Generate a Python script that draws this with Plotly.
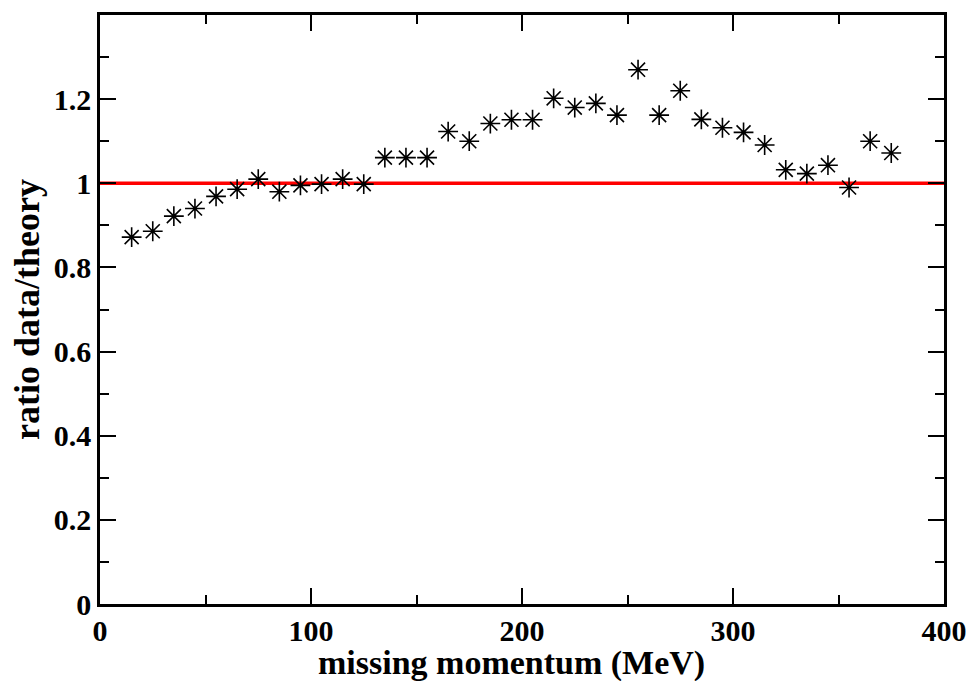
import plotly.graph_objects as go

# Missing momentum bins (MeV) and measured ratio data/theory
momentum = [15, 25, 35, 45, 55, 65, 75, 85, 95, 105, 115, 125,
            135, 145, 155, 165, 175, 185, 195, 205, 215, 225, 235, 245,
            255, 265, 275, 285, 295, 305, 315, 325, 335, 345, 355, 365, 375]
ratio = [0.872, 0.886, 0.922, 0.940, 0.969, 0.986, 1.010, 0.980, 0.995, 0.998, 1.010, 0.998,
         1.061, 1.061, 1.061, 1.123, 1.100, 1.142, 1.151, 1.151, 1.202, 1.180, 1.190, 1.162,
         1.270, 1.162, 1.220, 1.152, 1.132, 1.121, 1.091, 1.032, 1.023, 1.043, 0.990, 1.100, 1.072]

# Reference line at unity
ref_x = [0, 400]
ref_y = [1, 1]

x_ticks = [0, 100, 200, 300, 400]
x_labels = ["0", "100", "200", "300", "400"]
y_ticks = [0, 0.2, 0.4, 0.6, 0.8, 1.0, 1.2]
y_labels = ["0", "0.2", "0.4", "0.6", "0.8", "1", "1.2"]

FONT = "Liberation Serif"

fig = go.Figure()
fig.add_trace(go.Scatter(
    x=ref_x, y=ref_y, mode="lines",
    line=dict(color="#ff0000", width=3.5),
    hoverinfo="skip", showlegend=False,
))
fig.add_trace(go.Scatter(
    x=momentum, y=ratio, mode="markers",
    marker=dict(symbol="asterisk-open", size=16.5, color="black",
                line=dict(color="black", width=1.6)),
    showlegend=False,
))

axis_common = dict(
    showline=True, linecolor="black", linewidth=2.5, mirror="allticks",
    ticks="inside", ticklen=16, tickwidth=1.5, tickcolor="black",
    showgrid=False, zeroline=False,
    tickfont=dict(family=FONT, size=30, color="black", weight="bold"),
)

fig.update_xaxes(
    range=[0, 400], tickmode="array", tickvals=x_ticks, ticktext=x_labels,
    minor=dict(ticks="inside", ticklen=9, tickwidth=1.5, tickcolor="black", dtick=50),
    ticklabelstandoff=-2,
    **axis_common,
)
fig.update_yaxes(
    range=[0, 1.4], tickmode="array", tickvals=y_ticks, ticktext=y_labels,
    minor=dict(ticks="inside", ticklen=9, tickwidth=1.5, tickcolor="black", dtick=0.1),
    title=dict(text="<b>ratio data/theory</b>",
               font=dict(family=FONT, size=36, color="black"), standoff=4),
    ticklabelstandoff=0,
    **axis_common,
)

# x-axis title placed below the tick labels
fig.add_annotation(
    text="<b>missing momentum (MeV)</b>",
    xref="paper", yref="paper", x=0.4876, y=-0.100,
    xanchor="center", yanchor="middle", showarrow=False,
    font=dict(family=FONT, size=34, color="black"),
)

fig.update_layout(
    width=979, height=681,
    margin=dict(l=100, r=31, t=12, b=77),
    paper_bgcolor="white", plot_bgcolor="white",
    font=dict(family=FONT, color="black"),
)

fig.write_html("out.html")
